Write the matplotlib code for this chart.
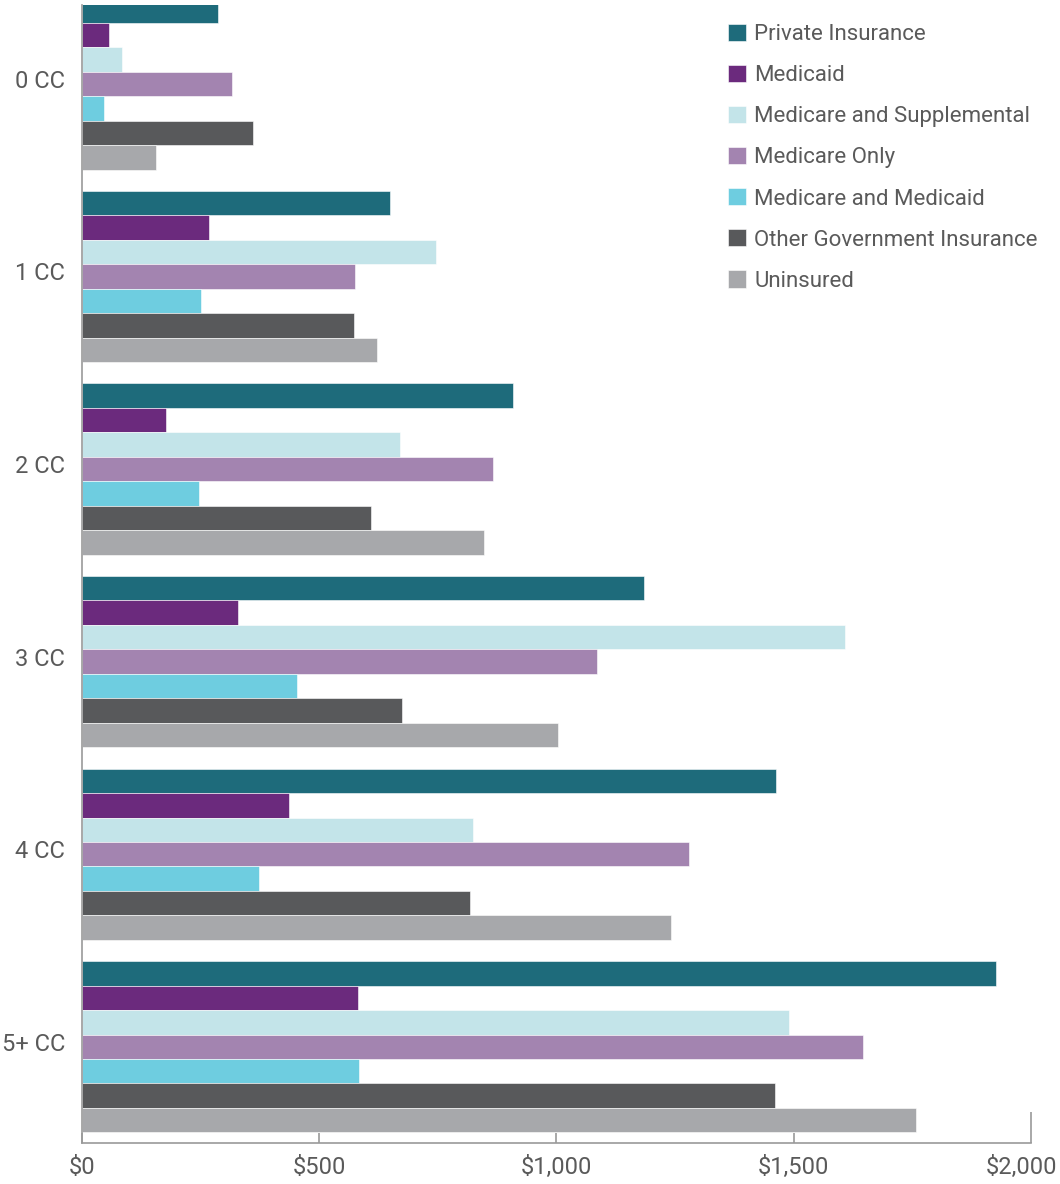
import matplotlib
matplotlib.use("Agg")
import matplotlib.pyplot as plt
import matplotlib.ticker as mticker
import matplotlib.transforms as mtransforms
import numpy as np

# categories (number of chronic conditions), top to bottom
categories = ["0 CC", "1 CC", "2 CC", "3 CC", "4 CC", "5+ CC"]

series_names = [
    "Private Insurance",
    "Medicaid",
    "Medicare and Supplemental",
    "Medicare Only",
    "Medicare and Medicaid",
    "Other Government Insurance",
    "Uninsured",
]

# spending per category, one list per insurance type
private_insurance = [287, 649, 908, 1184, 1463, 1926]
medicaid = [57, 268, 177, 329, 436, 582]
medicare_supplemental = [84, 746, 670, 1608, 824, 1490]
medicare_only = [316, 575, 866, 1085, 1279, 1646]
medicare_medicaid = [46, 251, 247, 453, 373, 584]
other_government = [360, 573, 609, 674, 818, 1460]
uninsured = [156, 622, 847, 1003, 1241, 1758]

colors = ["#1e6b7b", "#6b2a7d", "#c3e4e9", "#a384b0",
          "#6ecde0", "#58595b", "#a7a8ab"]

series = [private_insurance, medicaid, medicare_supplemental, medicare_only,
          medicare_medicaid, other_government, uninsured]

plt.rcParams['font.family'] = ['Roboto', 'DejaVu Sans']

fig = plt.figure(figsize=(10.6, 11.84), dpi=100)
ax = fig.add_axes([0.0771, 0.0346, 0.8955, 0.9612])

# grouped horizontal bars
bar_h = 0.127
y = np.arange(len(categories))
for i, (name, vals) in enumerate(zip(series_names, series)):
    ax.barh(y + (i - 3) * bar_h, vals, height=bar_h, color=colors[i],
            label=name, edgecolor="white", linewidth=0.4)

ax.set_ylim(5.5, -0.41)
ax.set_xlim(0, 2000)

# axes styling
for side in ["top", "right"]:
    ax.spines[side].set_visible(False)
for side in ["left", "bottom"]:
    ax.spines[side].set_color("#9a9a9a")
    ax.spines[side].set_linewidth(1.2)

ax.set_xticks([0, 500, 1000, 1500, 2000])
ax.xaxis.set_major_formatter(mticker.FuncFormatter(lambda v, p: f"${v:,.0f}"))
ax.tick_params(axis="x", direction="in", length=7.5, width=1.2,
               color="#9a9a9a", labelsize=17, labelcolor="#5a5a5a", pad=9)
last_tick = ax.xaxis.get_major_ticks()[-1]
last_tick.tick1line.set_markersize(22)
# nudge the last label left so it stays inside the figure
last_tick.label1.set_transform(last_tick.label1.get_transform() +
                               mtransforms.ScaledTranslation(-0.09, 0, fig.dpi_scale_trans))

ax.set_yticks(y)
ax.set_yticklabels(categories)
ax.tick_params(axis="y", length=0, labelsize=17, labelcolor="#5a5a5a", pad=12)
for lab in ax.get_yticklabels():
    lab.set_transform(lab.get_transform() +
                      mtransforms.ScaledTranslation(0, 0.05, fig.dpi_scale_trans))

# legend, top right
leg = ax.legend(loc="upper left", bbox_to_anchor=(728 / 1060, 1 - 24 / 1184),
                bbox_transform=fig.transFigure, frameon=False, fontsize=16,
                handlelength=0.81, handleheight=0.81, handletextpad=0.36,
                labelspacing=0.89, borderpad=0, borderaxespad=0)
for t in leg.get_texts():
    t.set_color("#5a5a5a")

fig.savefig("out.png", dpi=100)
plt.close(fig)
